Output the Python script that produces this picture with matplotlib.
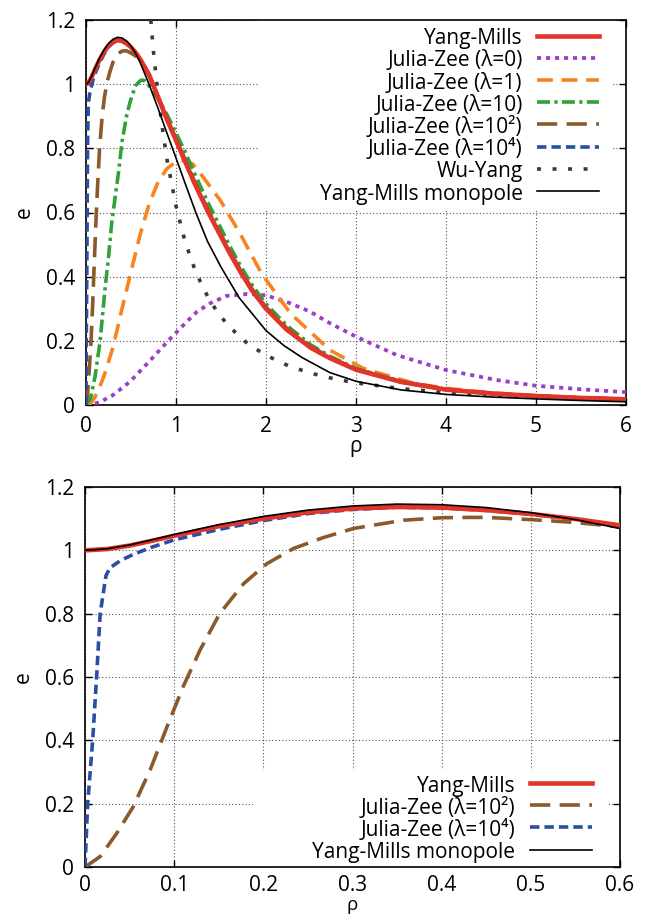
import matplotlib
matplotlib.use('Agg')
import matplotlib.pyplot as plt
from matplotlib.patches import Rectangle
from matplotlib.ticker import FuncFormatter

plt.rcParams['font.family'] = ['Open Sans', 'DejaVu Sans']

# ---------------- data ----------------
rho_ym = [0, 0.025, 0.05, 0.075, 0.1, 0.15, 0.2, 0.25, 0.3, 0.35, 0.4, 0.45, 0.5, 0.55, 0.6,
          0.7, 0.8, 0.9, 1.0, 1.1, 1.2, 1.36, 1.5, 1.6, 1.72, 1.85, 2.0, 2.23,
          2.5, 2.71, 3.0, 3.5, 4.0, 4.5, 5.0, 5.5, 6.0]
e_ym = [1.0, 1.004, 1.015, 1.03, 1.046, 1.076, 1.10, 1.12, 1.132, 1.137, 1.135, 1.127, 1.115,
        1.099, 1.079, 1.03, 0.96, 0.89, 0.825, 0.76, 0.695, 0.60, 0.525, 0.472, 0.413, 0.355,
        0.30, 0.235, 0.178, 0.146, 0.11, 0.072, 0.048, 0.036, 0.028, 0.022, 0.018]

rho_jz0 = [0, 0.15, 0.3, 0.49, 0.71, 0.93, 1.12, 1.23, 1.38, 1.56, 1.79, 2.0, 2.27,
           2.49, 2.71, 3.0, 3.45, 4.0, 4.56, 5.0, 5.5, 6.0]
e_jz0 = [0, 0.008, 0.031, 0.073, 0.138, 0.205, 0.26, 0.29, 0.317, 0.34, 0.346, 0.342, 0.317,
         0.291, 0.255, 0.213, 0.156, 0.109, 0.078, 0.060, 0.049, 0.040]

rho_jz1 = [0, 0.05, 0.1, 0.15, 0.2, 0.3, 0.4, 0.5, 0.6, 0.7, 0.8, 0.9, 1.0, 1.05,
           1.12, 1.19, 1.27, 1.49, 1.71, 1.95, 2.27, 2.53, 2.71, 3.08, 3.64, 4.0, 4.5, 5.0,
           5.5, 6.0]
e_jz1 = [0, 0.005, 0.025, 0.055, 0.09, 0.18, 0.30, 0.415, 0.53, 0.625, 0.695, 0.737, 0.758,
         0.762, 0.76, 0.75, 0.722, 0.639, 0.535, 0.41, 0.286, 0.218, 0.171, 0.114, 0.068,
         0.052, 0.038, 0.029, 0.022, 0.018]

rho_jz10 = [0, 0.05, 0.1, 0.156, 0.21, 0.25, 0.285, 0.33, 0.36, 0.4, 0.45, 0.49, 0.55, 0.6,
            0.62, 0.65, 0.7, 0.8, 0.9, 1.0, 1.1, 1.2, 1.36, 1.5, 1.6, 1.72, 1.85, 2.0,
            2.23, 2.5, 2.71, 3.0, 3.5, 4.0, 4.5, 5.0, 5.5, 6.0]
e_jz10 = [0, 0.02, 0.088, 0.197, 0.358, 0.46, 0.566, 0.66, 0.722, 0.82, 0.90, 0.945, 0.995,
          1.01, 1.013, 1.011, 0.995, 0.955, 0.905, 0.848, 0.79, 0.725, 0.628, 0.55, 0.494,
          0.432, 0.372, 0.315, 0.248, 0.187, 0.152, 0.114, 0.074, 0.049, 0.036, 0.028,
          0.022, 0.018]

rho_jz100 = [0, 0.017, 0.0355, 0.054, 0.073, 0.092, 0.11, 0.129, 0.151, 0.178, 0.204, 0.234,
             0.267, 0.301, 0.357, 0.4, 0.432, 0.45, 0.5, 0.55, 0.6, 0.7, 0.8, 0.9, 1.0, 1.1,
             1.2, 1.36, 1.5, 1.6, 1.72, 1.85, 2.0, 2.23, 2.5, 2.71, 3.0, 3.5, 4.0, 4.5, 5.0,
             5.5, 6.0]
e_jz100 = [0, 0.033, 0.106, 0.19, 0.306, 0.443, 0.569, 0.685, 0.80, 0.895, 0.958, 1.006,
           1.04, 1.069, 1.095, 1.103, 1.104, 1.104, 1.097, 1.088, 1.074, 1.028, 0.962, 0.894,
           0.83, 0.766, 0.70, 0.606, 0.531, 0.478, 0.419, 0.36, 0.305, 0.24, 0.182, 0.149,
           0.112, 0.073, 0.048, 0.036, 0.028, 0.022, 0.018]

rho_jz1e4 = [0, 0.003, 0.0086, 0.013, 0.017, 0.0235, 0.028, 0.04, 0.054, 0.075, 0.1, 0.15,
             0.2, 0.25, 0.3, 0.35, 0.4, 0.45, 0.5, 0.55, 0.6, 0.7, 0.8, 0.9, 1.0, 1.1, 1.2,
             1.36, 1.5, 1.6, 1.72, 1.85, 2.0, 2.23, 2.5, 2.71, 3.0, 3.5, 4.0, 4.5, 5.0, 5.5,
             6.0]
e_jz1e4 = [0, 0.2, 0.4, 0.6, 0.8, 0.92, 0.945, 0.968, 0.987, 1.01, 1.033, 1.066, 1.094, 1.116,
           1.129, 1.136, 1.134, 1.126, 1.114, 1.098, 1.078, 1.029, 0.959, 0.889, 0.824, 0.759,
           0.694, 0.60, 0.525, 0.472, 0.413, 0.355, 0.30, 0.235, 0.178, 0.146, 0.11, 0.072,
           0.048, 0.036, 0.028, 0.022, 0.018]

rho_wy = [0.72, 0.75, 0.8, 0.85, 0.9, 1.0, 1.1, 1.2, 1.3, 1.4, 1.5, 1.6, 1.8, 2.0, 2.25,
          2.5, 2.75, 3.0, 3.5, 4.0, 4.5, 5.0, 5.5, 6.0]
e_wy = [1.2, 1.10, 0.97, 0.86, 0.765, 0.62, 0.51, 0.43, 0.365, 0.315, 0.275, 0.242, 0.19,
        0.155, 0.122, 0.099, 0.082, 0.069, 0.051, 0.039, 0.031, 0.025, 0.021, 0.017]

rho_mp = [0, 0.025, 0.05, 0.075, 0.1, 0.15, 0.2, 0.25, 0.3, 0.35, 0.4, 0.45, 0.5, 0.55, 0.6,
          0.7, 0.8, 0.9, 1.0, 1.1, 1.22, 1.35, 1.5, 1.7, 2.0, 2.2, 2.4, 2.71, 3.0, 3.5, 4.0,
          4.5, 5.0, 5.5, 6.0]
e_mp = [1.0, 1.005, 1.017, 1.033, 1.05, 1.081, 1.107, 1.127, 1.14, 1.146, 1.144, 1.135, 1.119,
        1.097, 1.069, 1.0, 0.925, 0.847, 0.77, 0.692, 0.60, 0.51, 0.43, 0.335, 0.232, 0.185,
        0.148, 0.101, 0.074, 0.047, 0.033, 0.025, 0.019, 0.014, 0.010]

labels = ['Yang-Mills', 'Julia-Zee (λ=0)', 'Julia-Zee (λ=1)', 'Julia-Zee (λ=10)',
          'Julia-Zee (λ=10²)', 'Julia-Zee (λ=10⁴)', 'Wu-Yang', 'Yang-Mills monopole']

top_xticks = [0, 1, 2, 3, 4, 5, 6]
bot_xticks = [0, 0.1, 0.2, 0.3, 0.4, 0.5, 0.6]
yticks = [0, 0.2, 0.4, 0.6, 0.8, 1.0, 1.2]

# ---------------- styles ----------------
C_RED = '#e3342a'
C_PUR = '#9a40c4'
C_ORA = '#f7841f'
C_GRN = '#2fa33a'
C_BRN = '#8b5a2b'
C_BLU = '#2a4ea6'
C_WY = '#3a3a3a'
FS = 15

styles = {
    'ym': dict(color=C_RED, lw=3.3, ls='-', zorder=5),
    'jz0': dict(color=C_PUR, lw=2.7, ls=(0, (1.1, 1.3)), zorder=3),
    'jz1': dict(color=C_ORA, lw=2.6, ls=(0, (4.4, 2.4)), zorder=3),
    'jz10': dict(color=C_GRN, lw=2.6, ls=(0, (3.6, 1.2, 0.9, 1.2)), zorder=3),
    'jz100': dict(color=C_BRN, lw=2.6, ls=(0, (5.6, 2.6)), zorder=3),
    'jz1e4': dict(color=C_BLU, lw=2.6, ls=(0, (2.6, 1.4)), zorder=3),
    'wy': dict(color=C_WY, lw=2.6, ls=(0, (1.1, 3.2)), zorder=4),
    'mp': dict(color='black', lw=1.2, ls='-', zorder=6),
}

fig = plt.figure(figsize=(6.46, 9.15), dpi=100)
W, H = 646.0, 915.0
ax1 = fig.add_axes([86 / W, 1 - 405 / H, 540 / W, 385 / H])
ax2 = fig.add_axes([85 / W, 1 - 867 / H, 535 / W, 380 / H])


def style_axes(ax, xticks, xlim, xpad):
    ax.set_xlim(*xlim)
    ax.set_ylim(0, 1.2)
    ax.set_xticks(xticks)
    ax.set_yticks(yticks)
    fmt = FuncFormatter(lambda v, p: f'{v:g}')
    ax.xaxis.set_major_formatter(fmt)
    ax.yaxis.set_major_formatter(fmt)
    ax.tick_params(direction='in', top=True, right=True, length=5, width=1.0,
                   labelsize=FS, pad=8)
    ax.tick_params(axis='x', pad=xpad)
    ax.set_axisbelow(True)
    ax.grid(True, color='#555555', lw=0.8, ls=(0, (1, 2)))
    for s in ax.spines.values():
        s.set_linewidth(1.2)
    ax.set_ylabel('e', fontsize=FS)
    ax.yaxis.set_label_coords(-0.095, 0.5)


def right_align_legend(leg):
    for col in leg._legend_box._children[-1]._children:
        col.align = 'right'


LEG = dict(frameon=False, markerfirst=False, fontsize=FS, borderpad=0,
           handlelength=2.98, handletextpad=0.69, labelspacing=0.0,
           handleheight=1.12, borderaxespad=0)

# ---------------- top panel ----------------
style_axes(ax1, top_xticks, (0, 6), 8)
ax1.set_xlabel('ρ', fontsize=FS)
ax1.xaxis.set_label_coords(0.5, -0.08)
ax1.add_patch(Rectangle((0.3185, 0.504), 0.6575, 0.496, transform=ax1.transAxes,
                        facecolor='white', edgecolor='none', zorder=1))
h = []
h += ax1.plot(rho_ym, e_ym, label=labels[0], **styles['ym'])
h += ax1.plot(rho_jz0, e_jz0, label=labels[1], **styles['jz0'])
h += ax1.plot(rho_jz1, e_jz1, label=labels[2], **styles['jz1'])
h += ax1.plot(rho_jz10, e_jz10, label=labels[3], **styles['jz10'])
h += ax1.plot(rho_jz100, e_jz100, label=labels[4], **styles['jz100'])
h += ax1.plot(rho_jz1e4, e_jz1e4, label=labels[5], **styles['jz1e4'])
h += ax1.plot(rho_wy, e_wy, label=labels[6], **styles['wy'])
h += ax1.plot(rho_mp, e_mp, label=labels[7], **styles['mp'])
leg1 = ax1.legend(handles=h, loc='upper right', bbox_to_anchor=(0.95, 0.982), **LEG)
right_align_legend(leg1)

# ---------------- bottom panel ----------------
style_axes(ax2, bot_xticks, (0, 0.6), 6)
ax2.set_xlabel('ρ', fontsize=13.5)
ax2.xaxis.set_label_coords(0.5, -(896.5 - 867) / 380)
ax2.add_patch(Rectangle((0.318, 0.0), 0.658, 0.255, transform=ax2.transAxes,
                        facecolor='white', edgecolor='none', zorder=1))
g = []
g += ax2.plot(rho_ym, e_ym, label=labels[0], **styles['ym'])
g += ax2.plot(rho_jz100, e_jz100, label=labels[4], **styles['jz100'])
g += ax2.plot(rho_jz1e4, e_jz1e4, label=labels[5], **styles['jz1e4'])
g += ax2.plot(rho_mp, e_mp, label=labels[7], **styles['mp'])
leg2 = ax2.legend(handles=g, loc='lower right', bbox_to_anchor=(0.947, 0.01), **LEG)
right_align_legend(leg2)

fig.savefig('out.png', dpi=100)
